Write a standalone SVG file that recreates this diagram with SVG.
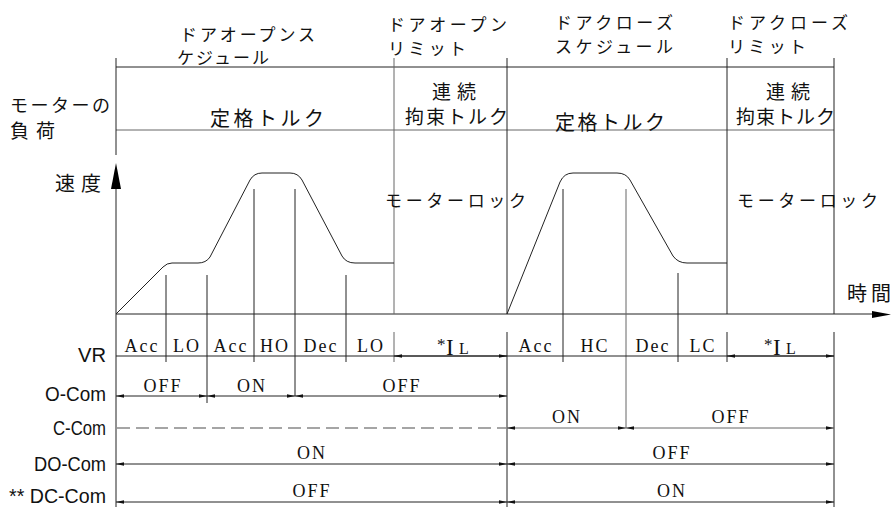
<svg xmlns="http://www.w3.org/2000/svg" width="891" height="507" viewBox="0 0 891 507">
<style>
.ln{stroke:#222;stroke-width:1;fill:none}
.gr{stroke:#666;stroke-width:1;fill:none}
.jp{font-family:"Noto Sans CJK JP","Noto Sans",sans-serif;fill:#111}
.lbl{font-family:"Liberation Sans",Arial,sans-serif;font-size:20px;fill:#111;text-anchor:end}
.tm{font-family:"Liberation Serif","Times New Roman",serif;font-size:18px;fill:#111;text-anchor:middle;letter-spacing:2px}
.dim{stroke:#222;stroke-width:1;fill:none;marker-start:url(#ah);marker-end:url(#ah)}
.dimg{stroke:#666;stroke-width:1;fill:none;marker-start:url(#ah);marker-end:url(#ah)}
</style>
<defs>
<marker id="ah" markerUnits="userSpaceOnUse" markerWidth="9" markerHeight="4" refX="8" refY="1.75" orient="auto-start-reverse"><path d="M0,0 L8,1.75 L0,3.5 z" fill="#111"/></marker>
</defs>

<g id="frame">
<line class="ln" x1="116" y1="67" x2="834" y2="67"/>
<line class="gr" x1="116" y1="130" x2="834" y2="130"/>
<line class="ln" x1="116" y1="58" x2="116" y2="155"/>
<line class="ln" x1="116" y1="189" x2="116" y2="507"/>
<path d="M116,163 L121,189 L111,189 z" fill="#000"/>
<line class="ln" x1="116" y1="314" x2="873" y2="314"/>
<path d="M872,311 L891,314.5 L872,318 z" fill="#000"/>
<line class="gr" x1="394" y1="58" x2="394" y2="314"/>
<line class="ln" x1="507" y1="58" x2="507" y2="314"/>
<line class="ln" x1="727" y1="58" x2="727" y2="314"/>
<line class="ln" x1="834" y1="58" x2="834" y2="314"/>
</g>

<g id="top-labels">
<text class="jp" x="180" y="41" font-size="17" textLength="135" lengthAdjust="spacing">ドアオープンス</text>
<text class="jp" x="177" y="64" font-size="17" textLength="92" lengthAdjust="spacing">ケジュール</text>
<text class="jp" x="388" y="31" font-size="17" textLength="119" lengthAdjust="spacing">ドアオープン</text>
<text class="jp" x="388" y="55" font-size="17" textLength="78" lengthAdjust="spacing">リミット</text>
<text class="jp" x="555" y="29" font-size="17" textLength="118" lengthAdjust="spacing">ドアクローズ</text>
<text class="jp" x="555" y="53" font-size="17" textLength="118" lengthAdjust="spacing">スケジュール</text>
<text class="jp" x="728" y="29" font-size="17" textLength="120" lengthAdjust="spacing">ドアクローズ</text>
<text class="jp" x="728" y="53" font-size="17" textLength="78" lengthAdjust="spacing">リミット</text>
</g>

<g id="load-row">
<text class="jp" x="10" y="112" font-size="18" textLength="100" lengthAdjust="spacing">モーターの</text>
<text class="jp" x="10" y="138" font-size="19" textLength="45" lengthAdjust="spacing">負荷</text>
<text class="jp" x="210" y="126" font-size="20" textLength="114" lengthAdjust="spacing">定格トルク</text>
<text class="jp" x="432" y="99" font-size="19" textLength="44" lengthAdjust="spacing">連続</text>
<text class="jp" x="405" y="124" font-size="19" textLength="103" lengthAdjust="spacing">拘束トルク</text>
<text class="jp" x="555" y="130" font-size="20" textLength="110" lengthAdjust="spacing">定格トルク</text>
<text class="jp" x="766" y="99" font-size="19" textLength="44" lengthAdjust="spacing">連続</text>
<text class="jp" x="736" y="124" font-size="19" textLength="99" lengthAdjust="spacing">拘束トルク</text>
</g>

<g id="speed">
<text class="jp" x="55" y="191" font-size="20" textLength="46" lengthAdjust="spacing">速度</text>
<text class="jp" x="385" y="207" font-size="17" textLength="141" lengthAdjust="spacing">モーターロック</text>
<text class="jp" x="737" y="207" font-size="17" textLength="141" lengthAdjust="spacing">モーターロック</text>
<text class="jp" x="847" y="301" font-size="20" textLength="44" lengthAdjust="spacing">時間</text>
<path class="ln" d="M116,314 L163,267 Q167,263 172,263 L198,263 Q206,263 210,257 L250,180 Q254,173 262,173 L290,173 Q298,173 302,180 L342,256 Q346,263 355,263 L394,263"/>
<path class="ln" d="M507,314 L560,182 Q564,173 573,173 L617,173 Q626,173 630,180 L673,256 Q678,263 687,263 L727,263"/>
</g>

<g id="connectors">
<line class="ln" x1="166" y1="275" x2="166" y2="362"/>
<line class="ln" x1="207" y1="275" x2="207" y2="403"/>
<line class="ln" x1="254" y1="189" x2="254" y2="362"/>
<line class="ln" x1="295" y1="189" x2="295" y2="396"/>
<line class="ln" x1="346" y1="275" x2="346" y2="362"/>
<line class="gr" x1="394" y1="332" x2="394" y2="362"/>
<line class="ln" x1="507" y1="332" x2="507" y2="507"/>
<line class="ln" x1="563" y1="189" x2="563" y2="362"/>
<line class="gr" x1="626" y1="189" x2="626" y2="428"/>
<line class="ln" x1="678" y1="273" x2="678" y2="362"/>
<line class="ln" x1="727" y1="332" x2="727" y2="362"/>
<line class="ln" x1="834" y1="332" x2="834" y2="507"/>
<line class="ln" x1="116" y1="356" x2="834" y2="356"/>
<line class="dim" x1="394" y1="356" x2="507" y2="356"/>
<line class="dim" x1="727" y1="356" x2="834" y2="356"/>
<line class="dim" x1="116" y1="396" x2="207" y2="396"/>
<line class="dim" x1="207" y1="396" x2="295" y2="396"/>
<line class="dim" x1="295" y1="396" x2="507" y2="396"/>
<line x1="117" y1="428" x2="507" y2="428" stroke="#888" stroke-width="1.5" stroke-dasharray="13,6"/>
<line class="dimg" x1="507" y1="428" x2="626" y2="428"/>
<line class="dimg" x1="626" y1="428" x2="834" y2="428"/>
<line class="dim" x1="116" y1="464" x2="507" y2="464"/>
<line class="dim" x1="507" y1="464" x2="834" y2="464"/>
<line class="dim" x1="116" y1="502" x2="507" y2="502"/>
<line class="dim" x1="507" y1="502" x2="834" y2="502"/>
</g>

<g id="signal-labels">
<text class="lbl" x="106" y="362" textLength="28" lengthAdjust="spacingAndGlyphs">VR</text>
<text class="lbl" x="106" y="401" textLength="61" lengthAdjust="spacingAndGlyphs">O-Com</text>
<text class="lbl" x="106" y="435" textLength="53" lengthAdjust="spacingAndGlyphs">C-Com</text>
<text class="lbl" x="106" y="471" textLength="72" lengthAdjust="spacingAndGlyphs">DO-Com</text>
<text class="lbl" x="106" y="503" font-size="19" textLength="97" lengthAdjust="spacingAndGlyphs">** DC-Com</text>
</g>

<g id="vr-row">
<text class="tm" x="142" y="352">Acc</text>
<text class="tm" x="187" y="352">LO</text>
<text class="tm" x="231" y="352">Acc</text>
<text class="tm" x="275" y="352">HO</text>
<text class="tm" x="321" y="352">Dec</text>
<text class="tm" x="371" y="352">LO</text>
<text class="tm" x="536" y="352">Acc</text>
<text class="tm" x="595" y="352">HC</text>
<text class="tm" x="653" y="352">Dec</text>
<text class="tm" x="703" y="352">LC</text>
<text font-family="Liberation Serif,serif" fill="#111" x="437" y="350" font-size="17">*</text>
<text font-family="Liberation Serif,serif" fill="#111" x="446" y="355" font-size="23">I</text>
<text font-family="Liberation Serif,serif" fill="#111" x="459" y="354" font-size="16">L</text>
<text font-family="Liberation Serif,serif" fill="#111" x="764" y="350" font-size="17">*</text>
<text font-family="Liberation Serif,serif" fill="#111" x="773" y="355" font-size="23">I</text>
<text font-family="Liberation Serif,serif" fill="#111" x="786" y="354" font-size="16">L</text>
</g>

<g id="state-labels">
<text class="tm" x="163" y="392">OFF</text>
<text class="tm" x="252" y="392">ON</text>
<text class="tm" x="402" y="392">OFF</text>
<text class="tm" x="567" y="423">ON</text>
<text class="tm" x="731" y="423">OFF</text>
<text class="tm" x="312" y="459">ON</text>
<text class="tm" x="672" y="459">OFF</text>
<text class="tm" x="312" y="497">OFF</text>
<text class="tm" x="672" y="497">ON</text>
</g>
</svg>
